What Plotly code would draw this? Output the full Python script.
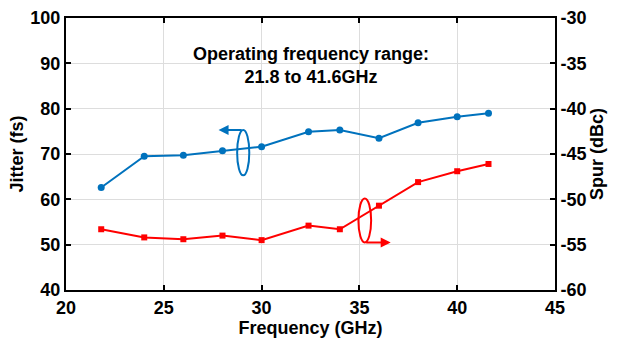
import plotly.graph_objects as go

freq = [21.8, 24, 26, 28, 30, 32.4, 34, 36, 38, 40, 41.6]
jitter = [62.6, 69.5, 69.7, 70.7, 71.6, 74.9, 75.3, 73.5, 76.9, 78.2, 79.0]
spur = [-53.3, -54.2, -54.4, -54.0, -54.5, -52.9, -53.3, -50.7, -48.1, -46.9, -46.1]

x_ticks = [20, 25, 30, 35, 40, 45]
jitter_ticks = [40, 50, 60, 70, 80, 90, 100]
spur_ticks = [-60, -55, -50, -45, -40, -35, -30]
spur_ticktext = [str(v) for v in spur_ticks]

FONT = "Liberation Sans, Arial"
BLUE = "#0072BD"
RED = "#FF0000"
FS = 18

fig = go.Figure()
fig.add_trace(go.Scatter(x=freq, y=jitter, mode="lines+markers",
                         line=dict(color=BLUE, width=2),
                         marker=dict(symbol="circle", size=7, color=BLUE),
                         showlegend=False))
fig.add_trace(go.Scatter(x=freq, y=spur, mode="lines+markers", yaxis="y2",
                         line=dict(color=RED, width=2),
                         marker=dict(symbol="square", size=6, color=RED),
                         showlegend=False))

tfont = dict(family=FONT, size=FS, color="black", weight="bold")
axis_common = dict(showline=True, linecolor="black", linewidth=2,
                   ticks="inside", ticklen=5, tickwidth=2, tickcolor="black",
                   tickfont=tfont, zeroline=False, automargin=False)

fig.update_layout(
    width=618, height=343,
    margin=dict(l=66, r=63, t=18, b=53),
    plot_bgcolor="white", paper_bgcolor="white",
    font=dict(family=FONT, color="black"),
    xaxis=dict(range=[20, 45], tickvals=x_ticks,
               showgrid=True, gridcolor="#dddddd", gridwidth=1,
               mirror="ticks",
               title=dict(text="Frequency (GHz)", standoff=0, font=tfont),
               **axis_common),
    yaxis=dict(range=[40, 100], tickvals=jitter_ticks,
               showgrid=True, gridcolor="#dddddd", gridwidth=1,
               mirror=True,
               title=dict(text="Jitter (fs)", standoff=2, font=tfont),
               **axis_common),
    yaxis2=dict(range=[-60, -30], tickvals=spur_ticks, ticktext=spur_ticktext,
                overlaying="y", side="right", showgrid=False,
                title=dict(text="Spur (dBc)", standoff=2, font=tfont),
                **axis_common),
)

fig.add_annotation(x=32.5, y=89.6, xref="x", yref="y",
                   text="Operating frequency range:<br>21.8 to 41.6GHz",
                   showarrow=False, align="center",
                   font=dict(family=FONT, size=18, color="black", weight="bold"))

# Blue ellipse with arrow pointing left (to Jitter axis)
fig.add_shape(type="circle", xref="x", yref="y", x0=28.75, x1=29.37, y0=65.3, y1=75.3,
              line=dict(color=BLUE, width=2))
fig.add_annotation(x=27.8, y=75.3, ax=29.06, ay=75.3, xref="x", yref="y",
                   axref="x", ayref="y", text="", showarrow=True,
                   arrowhead=2, arrowsize=1, arrowwidth=2, arrowcolor=BLUE)
# Red ellipse with arrow pointing right (to Spur axis)
fig.add_shape(type="circle", xref="x", yref="y", x0=34.95, x1=35.6, y0=50.5, y1=60.2,
              line=dict(color=RED, width=2))
fig.add_annotation(x=36.6, y=50.5, ax=35.27, ay=50.5, xref="x", yref="y",
                   axref="x", ayref="y", text="", showarrow=True,
                   arrowhead=2, arrowsize=1, arrowwidth=2, arrowcolor=RED)

fig.write_html("out.html")
